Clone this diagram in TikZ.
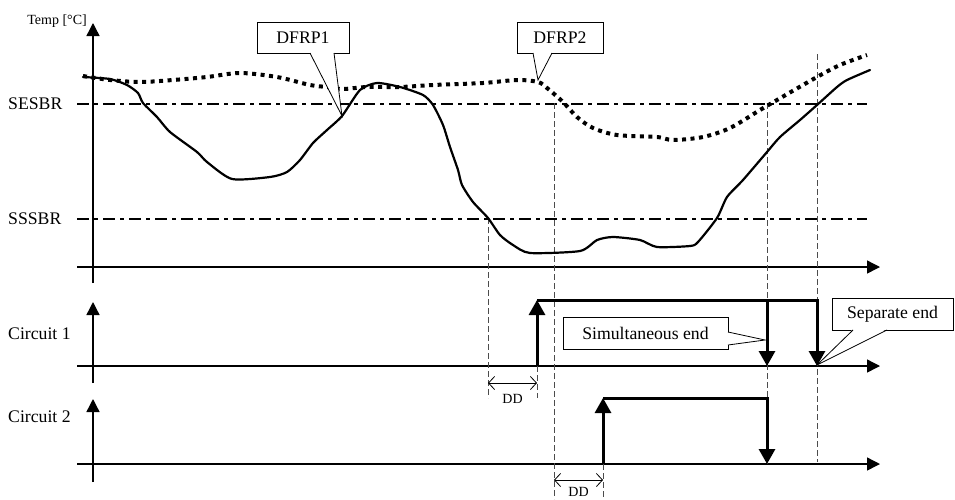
\documentclass[tikz,border=0pt]{standalone}
\usepackage{fontspec}
\setmainfont{Liberation Serif}
\usetikzlibrary{arrows.meta,calc}
\begin{document}
\begin{tikzpicture}[x=1pt,y=-1pt,
  lbl/.style={font=\fontsize{17.7}{20}\selectfont, inner sep=0pt},
  smalllbl/.style={font=\fontsize{14}{16}\selectfont, inner sep=0pt},
  axisline/.style={line width=1.4pt},
  axisarrow/.style={line width=1.4pt, -{Triangle[length=13pt,width=13pt]}},
  threshold/.style={line width=1.8pt, dash pattern=on 12pt off 5pt on 4pt off 5pt},
  guide/.style={line width=0.9pt, draw=black!70, dash pattern=on 6pt off 3pt},
  solidcurve/.style={line width=2.2pt, line join=round, line cap=round},
  dotcurve/.style={line width=4pt, dash pattern=on 4pt off 4.5pt},
  pulse/.style={line width=3pt},
  pulsearrow/.style={line width=3pt, -{Triangle[length=15pt,width=16pt]}},
  ddarrow/.style={line width=0.8pt, {Straight Barb[length=6pt,width=13pt]}-{Straight Barb[length=6pt,width=13pt]}},
  callout/.style={lbl, draw, fill=white, line width=0.8pt},
  pointer/.style={line width=0.8pt, line join=miter}
]
\useasboundingbox (0,0) rectangle (955,499);

% ---------- axes ----------
\coordinate (tB) at (93,283);  \coordinate (tT) at (93,23);
\coordinate (tL) at (77,267);  \coordinate (tR) at (880,267);
\coordinate (aB) at (93,383);  \coordinate (aT) at (93,302);
\coordinate (aL) at (77,366);  \coordinate (aR) at (880,366);
\coordinate (bB) at (93,482);  \coordinate (bT) at (93,399);
\coordinate (bL) at (77,464);  \coordinate (bR) at (880,464);
\draw[axisarrow] (tB) -- (tT);
\draw[axisarrow] (tL) -- (tR);
\draw[axisarrow] (aB) -- (aT);
\draw[axisarrow] (aL) -- (aR);
\draw[axisarrow] (bB) -- (bT);
\draw[axisarrow] (bL) -- (bR);

% ---------- thresholds ----------
\coordinate (seL) at (77,104);  \coordinate (seR) at (867,104);
\coordinate (ssL) at (77,219);  \coordinate (ssR) at (867,219);
\draw[threshold] (seL) -- (seR);
\draw[threshold] (ssL) -- (ssR);

% ---------- guide lines ----------
\coordinate (g1t) at (488,218); \coordinate (g1b) at (488,398);
\coordinate (g2t) at (554,103); \coordinate (g2b) at (554,499);
\coordinate (g3t) at (537,366); \coordinate (g3b) at (537,398);
\coordinate (g4t) at (603,464); \coordinate (g4b) at (603,499);
\coordinate (g5t) at (767,103); \coordinate (g5b) at (767,464);
\coordinate (g6t) at (817,54);  \coordinate (g6b) at (817,462);
\draw[guide] (g1t) -- (g1b);
\draw[guide] (g2t) -- (g2b);
\draw[guide] (g3t) -- (g3b);
\draw[guide] (g4t) -- (g4b);
\draw[guide] (g5t) -- (g5b);
\draw[guide] (g6t) -- (g6b);

% ---------- curves ----------
\draw[dotcurve] plot[smooth, tension=0.5] coordinates {
 (83,76) (110,80) (140,82) (173,80) (207,77) (240,73) (277,77) (310,85)
 (327,87) (343,89) (367,87) (400,87) (433,85) (483,83) (517,80) (538,82)
 (547,88) (563,102) (577,117) (593,128) (617,135) (657,137) (673,140)
 (703,137) (730,128) (760,110) (777,100) (817,77) (840,65) (867,55)};
\draw[solidcurve] plot[smooth, tension=0.4] coordinates {
 (83,77) (110,79) (127,85) (138,93) (143,103) (157,117) (170,132) (197,152)
 (207,162) (232,179) (270,177) (287,172) (300,160) (313,143) (327,130)
 (342,116) (360,90) (377,83) (400,87) (423,95) (433,105) (443,125) (450,147)
 (458,170) (462,185) (473,202) (488,218) (500,235) (513,245) (530,253)
 (580,251) (597,240) (613,237) (640,240) (657,247) (690,246) (698,242)
 (717,218) (727,197) (743,180) (767,152) (780,137) (800,120) (817,105)
 (837,87) (847,80) (870,70)};

% ---------- pulses ----------
\coordinate (p1a) at (537,366); \coordinate (p1b) at (537,300);
\coordinate (p1c) at (817,300); \coordinate (p1d) at (817,366);
\coordinate (p1e) at (767,300); \coordinate (p1f) at (767,366);
\draw[pulsearrow] (p1a) -- (p1b);
\draw[pulsearrow] (p1b) -- (p1c) -- (p1d);
\draw[pulsearrow] (p1e) -- (p1f);
\coordinate (p2a) at (603,464); \coordinate (p2b) at (603,398);
\coordinate (p2c) at (767,398); \coordinate (p2d) at (767,464);
\draw[pulsearrow] (p2a) -- (p2b);
\draw[pulsearrow] (p2b) -- (p2c) -- (p2d);

% ---------- DD ----------
\coordinate (dd1a) at (488,383); \coordinate (dd1b) at (537,383);
\draw[ddarrow] (dd1a) -- (dd1b);
\node[smalllbl] (dd1) at (512.5,399) {DD};
\coordinate (dd2a) at (554,480); \coordinate (dd2b) at (603,480);
\draw[ddarrow] (dd2a) -- (dd2b);
\node[smalllbl] (dd2) at (578.5,491.5) {DD};

% ---------- callouts ----------
\node[callout, minimum width=92pt, minimum height=31pt] (dfrp1) at (303,37.5) {DFRP1};
\coordinate (c1a) at (310,53); \coordinate (c1b) at (334,53); \coordinate (c1t) at (342,116);
\fill[white] ([yshift=1pt]c1a) -- (c1t) -- ([yshift=1pt]c1b) -- cycle;
\draw[pointer] (c1a) -- (c1t) -- (c1b);

\node[callout, minimum width=86pt, minimum height=31pt] (dfrp2) at (560,37.5) {DFRP2};
\coordinate (c2a) at (533,53); \coordinate (c2b) at (552,53); \coordinate (c2t) at (538,80);
\fill[white] ([yshift=1pt]c2a) -- (c2t) -- ([yshift=1pt]c2b) -- cycle;
\draw[pointer] (c2a) -- (c2t) -- (c2b);

\node[callout, minimum width=165pt, minimum height=32pt] (sim) at (645.5,333) {Simultaneous end};
\coordinate (c3a) at (728,332); \coordinate (c3b) at (728,345); \coordinate (c3t) at (765,340);
\fill[white] ([xshift=-1pt]c3a) -- (c3t) -- ([xshift=-1pt]c3b) -- cycle;
\draw[pointer] (c3a) -- (c3t) -- (c3b);

\node[callout, minimum width=121pt, minimum height=32pt] (sep) at (892.5,314) {Separate end};
\coordinate (c4a) at (853,330); \coordinate (c4b) at (887,330); \coordinate (c4t) at (817,365);
\fill[white] ([yshift=1pt]c4a) -- (c4t) -- ([yshift=1pt]c4b) -- cycle;
\draw[pointer] (c4a) -- (c4t) -- (c4b);

% ---------- labels ----------
\node[smalllbl, anchor=east] (temp) at (87,21) {Temp [°C]};
\node[lbl, anchor=west] (sesbr) at (8,104) {SESBR};
\node[lbl, anchor=west] (sssbr) at (8,219) {SSSBR};
\node[lbl, anchor=west] (circ1) at (8,334) {Circuit 1};
\node[lbl, anchor=west] (circ2) at (8,417) {Circuit 2};
\end{tikzpicture}
\end{document}
